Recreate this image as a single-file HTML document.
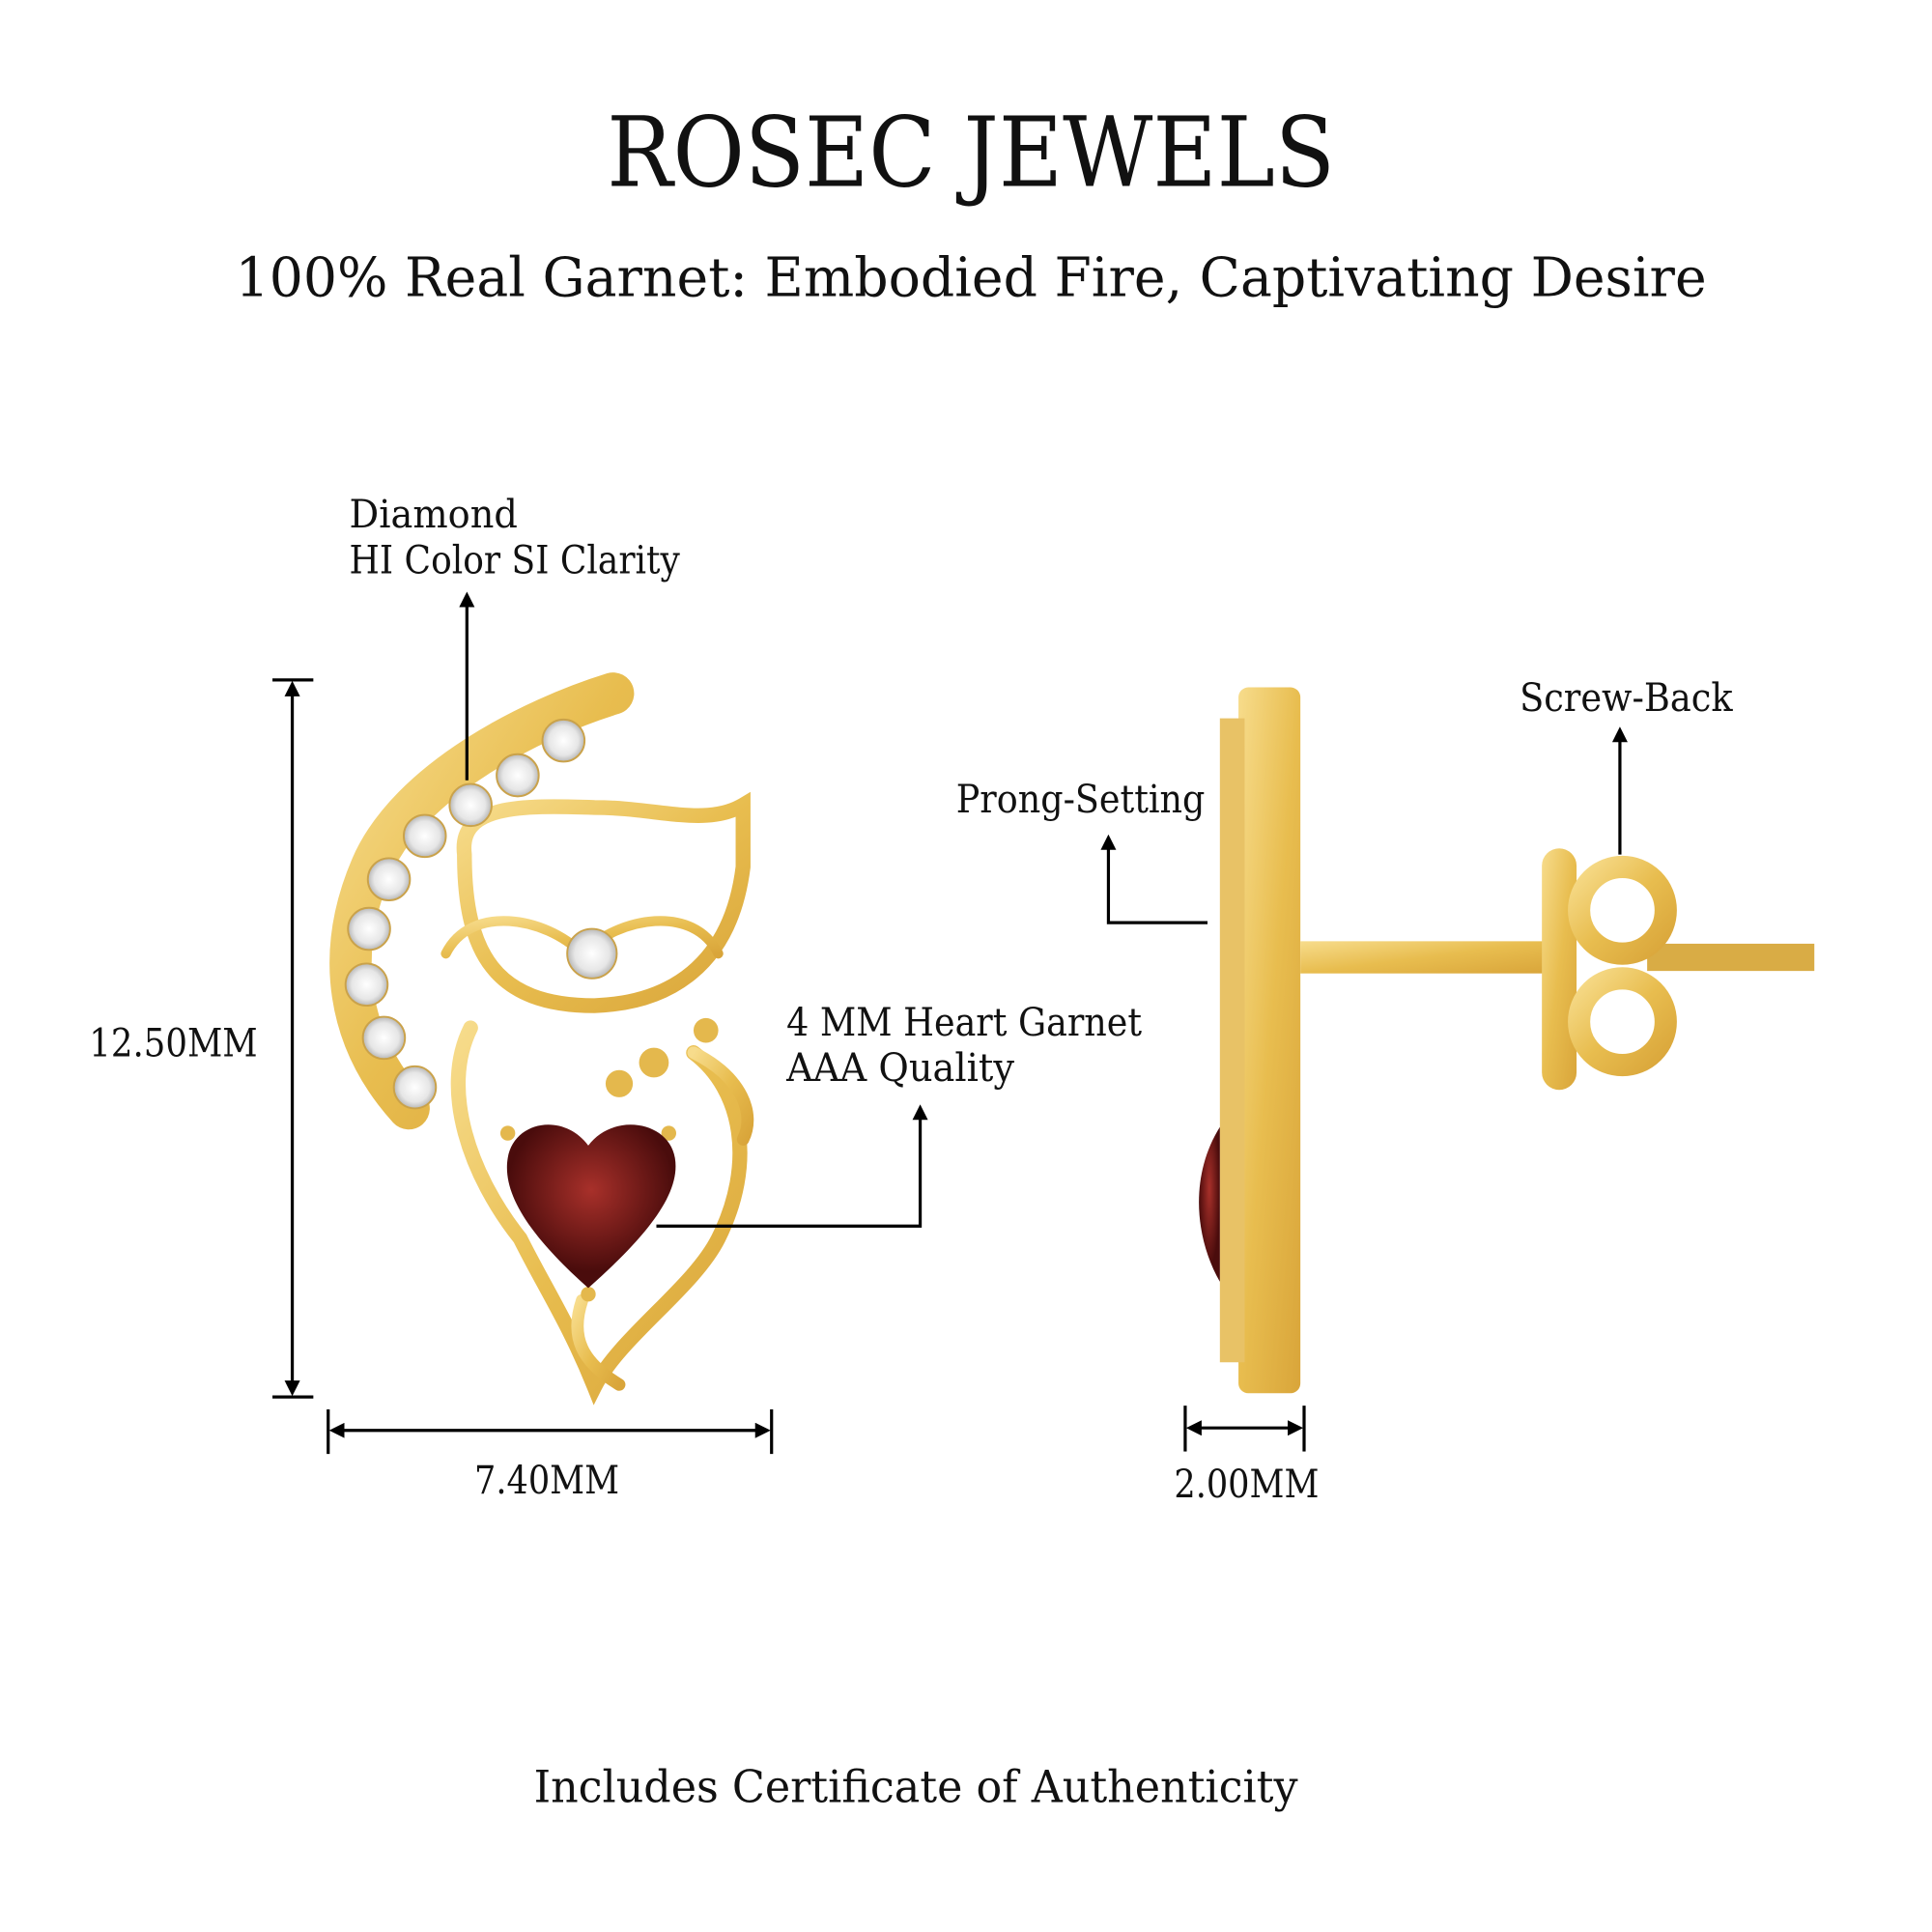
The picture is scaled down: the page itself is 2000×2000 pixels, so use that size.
<!DOCTYPE html>
<html><head><meta charset="utf-8"><style>
html,body{margin:0;padding:0;background:#fff;}
svg{display:block;}
text{font-family:"DejaVu Serif","Liberation Serif",serif;fill:#111;}
</style></head><body>
<svg width="2000" height="2000" viewBox="0 0 1560 1560" xmlns="http://www.w3.org/2000/svg">
<defs>
<linearGradient id="g" x1="0" y1="0" x2="1" y2="1">
<stop offset="0" stop-color="#f7dc8c"/><stop offset="0.5" stop-color="#e8bd4f"/><stop offset="1" stop-color="#d9a53a"/>
</linearGradient>
<radialGradient id="d"><stop offset="0" stop-color="#fff"/><stop offset="0.7" stop-color="#e6e6e6"/><stop offset="1" stop-color="#b8b8b8"/></radialGradient>
<radialGradient id="r" cx="0.5" cy="0.4"><stop offset="0" stop-color="#a8302a"/><stop offset="1" stop-color="#4a0c0c"/></radialGradient>
<marker id="a" viewBox="0 0 10 10" refX="5" refY="5" markerWidth="5" markerHeight="5" orient="auto-start-reverse"><path d="M0,0 L10,5 L0,10z" fill="#000"/></marker>
</defs>
<text x="490" y="150" font-size="78" textLength="588" lengthAdjust="spacingAndGlyphs">ROSEC JEWELS</text>
<text x="190" y="239" font-size="44" textLength="1188" lengthAdjust="spacingAndGlyphs">100% Real Garnet: Embodied Fire, Captivating Desire</text>

<!-- cat -->
<g fill="none" stroke="url(#g)" stroke-linecap="round">
<path d="M495,560 C430,580 330,630 300,700 C270,770 280,840 330,895" stroke-width="34"/>
<path d="M375,690 C370,650 420,650 480,652 C530,652 570,668 600,650 L600,700 C590,780 540,810 480,812 C400,812 375,770 375,690Z" stroke-width="12"/>
<path d="M360,770 C380,730 440,740 470,770 C500,740 560,730 580,770" stroke-width="8"/>
<path d="M380,830 C355,880 380,950 420,1000 C440,1040 460,1070 480,1120 C500,1080 560,1040 580,1000 C610,940 600,880 560,850" stroke-width="12"/>
<path d="M470,1050 C460,1080 470,1100 500,1118" stroke-width="10"/>
<path d="M560,850 C600,870 610,900 600,920" stroke-width="10"/>
</g>
<g fill="url(#d)" stroke="#caa24a" stroke-width="1.5">
<circle cx="455" cy="598" r="17"/><circle cx="418" cy="626" r="17"/><circle cx="380" cy="650" r="17"/><circle cx="343" cy="675" r="17"/>
<circle cx="314" cy="710" r="17"/><circle cx="298" cy="750" r="17"/><circle cx="296" cy="795" r="17"/><circle cx="310" cy="838" r="17"/><circle cx="335" cy="878" r="17"/>
<circle cx="478" cy="770" r="20"/>
</g>
<g fill="#e4b84d"><circle cx="528" cy="858" r="12"/><circle cx="500" cy="875" r="11"/><circle cx="570" cy="832" r="10"/><circle cx="410" cy="915" r="6"/><circle cx="540" cy="915" r="6"/><circle cx="475" cy="1045" r="6"/></g>
<path d="M475,1040 C430,1000 405,965 410,935 C415,905 455,898 475,925 C495,898 540,905 545,935 C550,965 520,1000 475,1040Z" fill="url(#r)"/>

<!-- side view -->
<rect x="1000" y="555" width="50" height="570" rx="8" fill="url(#g)"/>
<rect x="985" y="580" width="20" height="520" fill="#e8c266"/>
<rect x="1050" y="760" width="200" height="26" fill="url(#g)"/>
<rect x="1330" y="762" width="135" height="22" fill="#d9ac45"/>
<rect x="1245" y="685" width="28" height="195" rx="14" fill="url(#g)"/>
<g fill="none" stroke="url(#g)" stroke-width="18"><ellipse cx="1310" cy="735" rx="35" ry="35"/><ellipse cx="1310" cy="825" rx="35" ry="35"/></g>
<path d="M985,1035 C965,1000 960,950 985,910 Z" fill="url(#r)"/>

<!-- dimension lines -->
<g stroke="#000" stroke-width="2.5" fill="none">
<line x1="220" y1="549" x2="253" y2="549"/><line x1="220" y1="1128" x2="253" y2="1128"/>
<line x1="236" y1="556" x2="236" y2="1121" marker-start="url(#a)" marker-end="url(#a)"/>
<line x1="265" y1="1138" x2="265" y2="1174"/><line x1="623" y1="1138" x2="623" y2="1174"/>
<line x1="272" y1="1155" x2="616" y2="1155" marker-start="url(#a)" marker-end="url(#a)"/>
<line x1="957" y1="1135" x2="957" y2="1172"/><line x1="1053" y1="1135" x2="1053" y2="1172"/>
<line x1="964" y1="1153" x2="1046" y2="1153" marker-start="url(#a)" marker-end="url(#a)"/>
<line x1="377" y1="630" x2="377" y2="484" marker-end="url(#a)"/>
<polyline points="530,990 743,990 743,898" marker-end="url(#a)"/>
<polyline points="975,745 895,745 895,680" marker-end="url(#a)"/>
<line x1="1308" y1="690" x2="1308" y2="593" marker-end="url(#a)"/>
</g>

<text x="282" y="426" font-size="31" textLength="136" lengthAdjust="spacingAndGlyphs">Diamond</text>
<text x="282" y="463" font-size="31" textLength="267" lengthAdjust="spacingAndGlyphs">HI Color SI Clarity</text>
<text x="72" y="853" font-size="31" textLength="136" lengthAdjust="spacingAndGlyphs">12.50MM</text>
<text x="383" y="1206" font-size="31" textLength="117" lengthAdjust="spacingAndGlyphs">7.40MM</text>
<text x="948" y="1209" font-size="31" textLength="117" lengthAdjust="spacingAndGlyphs">2.00MM</text>
<text x="635" y="836" font-size="31" textLength="287" lengthAdjust="spacingAndGlyphs">4 MM Heart Garnet</text>
<text x="635" y="873" font-size="31" textLength="184" lengthAdjust="spacingAndGlyphs">AAA Quality</text>
<text x="772" y="656" font-size="31" textLength="201" lengthAdjust="spacingAndGlyphs">Prong-Setting</text>
<text x="1227" y="574" font-size="31" textLength="172" lengthAdjust="spacingAndGlyphs">Screw-Back</text>
<text x="431" y="1455" font-size="36" textLength="617" lengthAdjust="spacingAndGlyphs">Includes Certificate of Authenticity</text>
</svg>
</body></html>
